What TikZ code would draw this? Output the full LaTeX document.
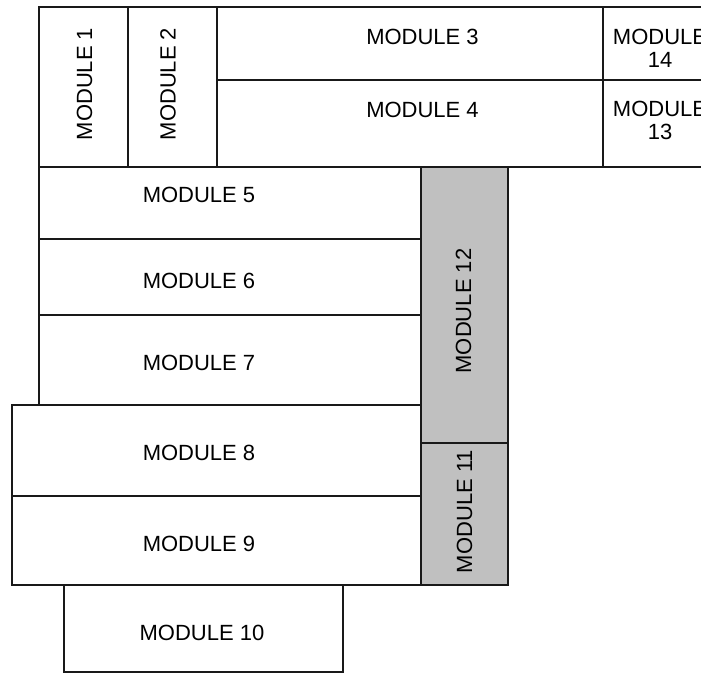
\documentclass[tikz,border=0pt]{standalone}
\usepackage{fontspec}
\setmainfont{Liberation Sans}
\usepackage{xcolor}
\usetikzlibrary{positioning}
\definecolor{modgray}{RGB}{192,192,192}

\begin{document}
\begin{tikzpicture}[
  x=0.5pt,y=-0.5pt,
  bx/.style={draw=black!90,line width=1pt},
  gb/.style={bx,fill=modgray},
  lb/.style={font=\fontsize{11}{13}\selectfont,inner sep=0pt,align=center},
  vl/.style={lb,rotate=90}
]
\useasboundingbox (0,0) rectangle (701,675);
\clip (0,0) rectangle (701,675);
%--- top row ---
\draw[bx] (39,7) rectangle (128,167);
\draw[bx] (128,7) rectangle (217,167);
\draw[bx] (217,7) rectangle (603,80);
\draw[bx] (217,80) rectangle (603,167);
\draw[bx] (603,7) rectangle (720,80);
\draw[bx] (603,80) rectangle (720,167);
\node[vl] (t1) at (84.5,84) {MODULE 1};
\node[vl] (t2) at (168,84) {MODULE 2};
\node[lb] (t3) at (422.5,37) {MODULE 3};
\node[lb] (t4) at (422.5,109.5) {MODULE 4};
\node[lb] (t14) at (660,48.5) {MODULE\\[-1.5pt]14};
\node[lb] (t13) at (660,120) {MODULE\\[-1.5pt]13};
%--- grey column ---
\draw[gb] (421,167) rectangle (508,443);
\draw[gb] (421,443) rectangle (508,585);
\node[vl] (t12) at (463.5,311) {MODULE 12};
\node[vl] (t11) at (464.5,511.5) {MODULE 11};
%--- left stack ---
\draw[bx] (39,167) rectangle (421,239);
\draw[bx] (39,239) rectangle (421,315);
\draw[bx] (39,315) rectangle (421,405);
\draw[bx] (12,405) rectangle (421,496);
\draw[bx] (12,496) rectangle (421,585);
\draw[bx] (64,585) rectangle (343,672);
\node[lb] (t5) at (199,194.5) {MODULE 5};
\node[lb] (t6) at (199,280.5) {MODULE 6};
\node[lb] (t7) at (199,362.5) {MODULE 7};
\node[lb] (t8) at (199,453) {MODULE 8};
\node[lb] (t9) at (199,544) {MODULE 9};
\node[lb] (t10) at (202,633) {MODULE 10};
\end{tikzpicture}
\end{document}
